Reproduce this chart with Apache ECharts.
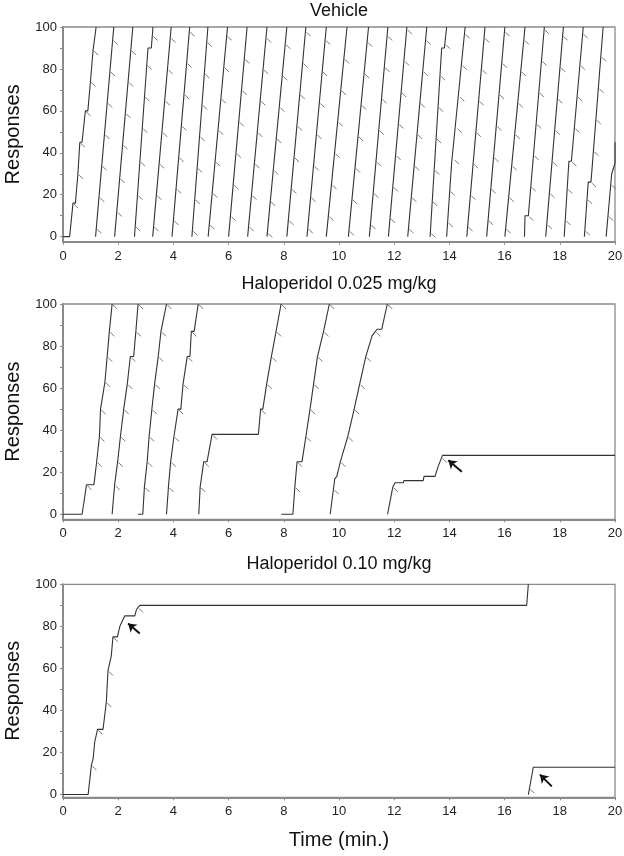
<!DOCTYPE html>
<html><head><meta charset="utf-8">
<script src="https://cdn.jsdelivr.net/npm/echarts@6/dist/echarts.min.js"></script>
<style>html,body{margin:0;padding:0;background:#fff}#c{width:624px;height:856px}</style>
</head><body><div id="c"></div>
<script>
// ---------- data ----------
const panelTitles = ['Vehicle', 'Haloperidol 0.025 mg/kg', 'Haloperidol 0.10 mg/kg'];
const xAxisTitle = 'Time (min.)';
const yAxisTitle = 'Responses';
const yLabelValues = [0, 20, 40, 60, 80, 100];
const yTickValues = [0, 10, 20, 30, 40, 50, 60, 70, 80, 90, 100];
const xRange = [0, 20];
const xStep = 2;

// cumulative records: [time (min), responses]; pen resets at 100
const vehicleRecords = [
  [[0,0],[0.24,0],[0.34,13],[0.36,16],[0.45,16],[0.54,30],[0.61,45],[0.69,45],[0.81,60],[0.9,60],[0.995,74],[1.09,89],[1.2,100]],
  [[1.18,0],[1.84,100]],
  [[1.87,0],[2.53,100]],
  [[2.59,0],[3.08,90],[3.2,90],[3.26,100]],
  [[3.25,0],[3.92,100]],
  [[3.95,0],[4.59,100]],
  [[4.67,0],[5.25,100]],
  [[5.26,0],[5.96,100]],
  [[6.00,0],[6.67,100]],
  [[6.69,0],[7.39,100]],
  [[7.39,0],[8.11,100]],
  [[8.11,0],[8.80,100]],
  [[8.84,0],[9.54,100]],
  [[9.54,0],[10.29,100]],
  [[10.34,0],[11.07,100]],
  [[11.10,0],[11.77,100]],
  [[11.79,0],[12.46,100]],
  [[12.49,0],[13.18,100]],
  [[13.30,0],[13.72,90],[13.82,90],[13.90,100]],
  [[13.90,0],[14.08,35],[14.15,35],[14.57,100]],
  [[14.63,0],[15.29,100]],
  [[15.35,0],[16.01,100]],
  [[16.01,0],[16.74,100]],
  [[16.72,0],[16.74,10],[16.86,10],[17.44,100]],
  [[17.49,0],[18.13,100]],
  [[18.16,0],[18.33,36],[18.42,36],[18.85,100]],
  [[18.89,0],[19.03,26],[19.13,26],[19.57,100]],
  [[19.68,0],[19.88,30],[20,35],[20,45]]
];
const vehicleMarks = [
  [0.36,16],[0.54,30],[0.61,45],[0.81,60],[0.995,74],[1.09,89],
  [1.21,4],[1.31,19],[1.40,34],[1.50,49],[1.60,64],[1.70,79],[1.80,94],
  [1.95,12],[2.05,28],[2.16,44],[2.26,59],[2.36,74],[2.46,89],
  [2.62,5],[2.70,20],[2.79,36],[2.87,52],[2.95,67],[3.04,82],[3.24,96],
  [3.28,5],[3.38,20],[3.48,35],[3.59,50],[3.69,65],[3.79,80],[3.89,95],
  [4.00,8],[4.10,23],[4.19,38],[4.29,53],[4.39,68],[4.48,83],[4.58,98],
  [4.69,3],[4.77,18],[4.86,33],[4.95,48],[5.04,63],[5.12,78],[5.21,93],
  [5.30,6],[5.41,21],[5.51,36],[5.62,51],[5.72,66],[5.83,81],[5.93,96],
  [6.07,10],[6.17,25],[6.27,40],[6.37,55],[6.47,70],[6.57,85],
  [6.73,5],[6.83,20],[6.94,35],[7.04,50],[7.15,65],[7.25,80],[7.36,95],
  [7.40,2],[7.51,17],[7.62,32],[7.73,47],[7.84,62],[7.94,77],[8.05,92],
  [8.17,8],[8.27,23],[8.37,38],[8.48,53],[8.58,68],[8.68,83],[8.79,98],
  [8.87,4],[8.97,19],[9.08,34],[9.18,49],[9.29,64],[9.39,79],[9.50,94],
  [9.62,10],[9.73,25],[9.84,40],[9.95,55],[10.07,70],[10.18,85],
  [10.36,3],[10.47,18],[10.58,33],[10.69,48],[10.80,63],[10.91,78],[11.02,93],
  [11.14,6],[11.24,21],[11.34,36],[11.44,51],[11.54,66],[11.64,81],[11.74,96],
  [11.85,9],[11.95,24],[12.05,39],[12.15,54],[12.25,69],[12.36,84],[12.46,99],
  [12.52,4],[12.62,19],[12.72,34],[12.83,49],[12.93,64],[13.04,79],[13.14,94],
  [13.31,2],[13.38,17],[13.45,32],[13.52,47],[13.59,62],[13.66,77],[13.84,92],
  [13.94,7],[14.01,22],[14.16,37],[14.26,52],[14.36,67],[14.45,82],[14.55,97],
  [14.66,5],[14.76,20],[14.86,35],[14.96,50],[15.06,65],[15.16,80],[15.26,95],
  [15.40,8],[15.50,23],[15.60,38],[15.70,53],[15.80,68],[15.90,83],[16.00,98],
  [16.04,4],[16.15,19],[16.26,34],[16.37,49],[16.48,64],[16.59,79],[16.70,94],
  [16.86,10],[16.95,24],[17.05,39],[17.14,54],[17.24,69],[17.34,84],[17.43,99],
  [17.53,6],[17.62,21],[17.72,36],[17.82,51],[17.91,66],[18.01,81],[18.10,96],
  [18.20,8],[18.27,23],[18.42,36],[18.53,52],[18.63,67],[18.73,82],[18.83,97],
  [18.91,3],[18.99,18],[19.13,26],[19.22,41],[19.31,56],[19.40,71],[19.49,86],
  [19.75,10],[19.85,25]
];

const halo025Records = [
  [[0,0],[0.69,0],[0.75,5],[0.85,14],[1.12,14],[1.22,25],[1.28,25],[1.32,37],[1.36,50],[1.43,50],[1.52,63],[1.6,75],[1.65,75],[1.68,87],[1.78,100]],
  [[1.78,0],[1.87,14],[1.98,25],[2.08,37],[2.2,50],[2.26,50],[2.33,62],[2.44,75],[2.56,75],[2.64,87],[2.72,100]],
  [[2.72,0],[2.89,0],[2.95,13],[3.05,25],[3.12,37],[3.22,50],[3.32,62],[3.45,75],[3.55,87],[3.62,87],[3.75,100]],
  [[3.75,0],[3.77,0],[3.82,13],[3.9,25],[4.02,37],[4.17,50],[4.27,50],[4.35,62],[4.5,75],[4.6,75],[4.65,87],[4.75,87],[4.9,100]],
  [[4.92,0],[4.97,13],[5.1,25],[5.22,25],[5.4,38],[7.08,38],[7.16,50],[7.24,50],[7.38,62],[7.55,75],[7.62,75],[7.72,87],[7.9,100]],
  [[7.91,0],[8.33,0],[8.4,13],[8.48,25],[8.66,25],[8.8,37],[8.95,50],[9.08,62],[9.22,75],[9.44,87],[9.65,100]],
  [[9.68,0],[9.8,12],[9.85,17],[9.92,18],[10.05,25],[10.32,37],[10.55,50],[10.75,62],[10.97,75],[11.2,85],[11.38,88],[11.55,88],[11.75,100]],
  [[11.76,0],[11.95,13],[12.03,15],[12.33,15],[12.35,16],[13.05,16],[13.08,18],[13.48,18],[13.6,23],[13.75,28],[20,28]]
];
const halo025Marks = [
  [0.85,14],[1.22,25],[1.32,37],[1.36,50],[1.52,63],[1.6,75],[1.68,87],[1.78,100],
  [1.87,14],[1.98,25],[2.08,37],[2.2,50],[2.33,62],[2.44,75],[2.64,87],[2.72,100],
  [2.95,13],[3.05,25],[3.12,37],[3.22,50],[3.32,62],[3.45,75],[3.55,87],[3.75,100],
  [3.82,13],[3.9,25],[4.02,37],[4.17,50],[4.35,62],[4.5,75],[4.65,87],[4.9,100],
  [4.97,13],[5.1,25],[5.4,38],[7.16,50],[7.38,62],[7.55,75],[7.72,87],[7.9,100],
  [8.4,13],[8.48,25],[8.8,37],[8.95,50],[9.08,62],[9.22,75],[9.44,87],[9.65,100],
  [9.8,12],[10.05,25],[10.32,37],[10.55,50],[10.75,62],[10.97,75],[11.32,87],[11.75,100],
  [11.95,13],[13.72,27]
];
const halo025Arrows = [[[14.45,20.2],[13.96,25.7]]];

const halo010Records = [
  [[0,0],[0.91,0],[1.03,14],[1.09,17],[1.15,25],[1.25,31],[1.45,31],[1.57,44],[1.63,59],[1.7,59],[1.75,66],[1.81,75],[1.97,75],[2.06,80],[2.24,85],[2.6,85],[2.66,88],[2.78,90],[16.8,90],[16.86,100]],
  [[16.86,0],[17.04,13],[20,13]]
];
const halo010Marks = [[1.03,14],[1.25,31],[1.57,44],[1.63,59],[1.81,75],[2.72,89],[16.9,3]];
const halo010Arrows = [[[2.78,76.6],[2.36,81.4]], [[17.71,3.9],[17.28,9.5]]];

// ---------- layout / style ----------
const FONT = '"Liberation Sans", Arial, sans-serif';
const panels = [
  { records: vehicleRecords, marks: vehicleMarks, arrows: [], top: 27, height: 214.7, ymin: -2.4, titleTop: 2 },
  { records: halo025Records, marks: halo025Marks, arrows: halo025Arrows, top: 304, height: 215.3, ymin: -2.4, titleTop: 275 },
  { records: halo010Records, marks: halo010Marks, arrows: halo010Arrows, top: 584.3, height: 213, ymin: -1.3, titleTop: 555 }
];
const AX = '#8a8a8a';

const grid = [], xAxis = [], yAxis = [], title = [], series = [];
panels.forEach((p, i) => {
  grid.push({ left: 63, top: p.top, width: 552, height: p.height, show: true, borderColor: '#8a8a8a', borderWidth: 1.3,
    containLabel: false, outerBoundsMode: 'none' });
  title.push({ text: panelTitles[i], left: 339, top: p.titleTop, textAlign: 'center', padding: 0,
    textStyle: { fontSize: 18, fontWeight: 'normal', color: '#111', fontFamily: FONT } });
  xAxis.push({
    gridIndex: i, type: 'value', min: xRange[0], max: xRange[1], interval: xStep,
    axisLine: { show: true, onZero: false, lineStyle: { color: AX, width: 2 } },
    axisTick: { show: true, length: 3, lineStyle: { color: AX } },
    axisLabel: { fontSize: 13, color: '#222', margin: 8, fontFamily: FONT },
    splitLine: { show: false },
    name: i === 2 ? xAxisTitle : '', nameLocation: 'middle', nameGap: 33,
    nameTextStyle: { fontSize: 20, color: '#111', fontFamily: FONT }
  });
  yAxis.push({
    gridIndex: i, type: 'value', min: p.ymin, max: 100,
    axisLine: { show: true, onZero: false, lineStyle: { color: AX, width: 2 } },
    axisTick: { show: true, length: 3, customValues: yTickValues, lineStyle: { color: AX } },
    axisLabel: { customValues: yLabelValues, fontSize: 13, color: '#222', margin: 6, fontFamily: FONT },
    splitLine: { show: false },
    name: yAxisTitle, nameLocation: 'middle', nameGap: 40,
    nameTextStyle: { fontSize: 20, color: '#111', fontFamily: FONT }
  });
  p.records.forEach(rec => {
    series.push({ type: 'line', xAxisIndex: i, yAxisIndex: i, data: rec, symbol: 'none', silent: true,
      lineStyle: { color: '#333', width: 1.1 }, clip: false });
  });
  series.push({ type: 'scatter', xAxisIndex: i, yAxisIndex: i, data: p.marks, silent: true,
    symbol: 'path://M0,0L10,10', symbolSize: 4, symbolOffset: [3, 3],
    itemStyle: { color: 'rgba(0,0,0,0)', borderColor: '#777', borderWidth: 1, opacity: 1 } });
  if (p.arrows.length) {
    series.push({ type: 'lines', coordinateSystem: 'cartesian2d', xAxisIndex: i, yAxisIndex: i, silent: true,
      data: p.arrows.map(a => ({ coords: a })), symbol: ['none', 'arrow'], symbolSize: 8,
      lineStyle: { color: '#111', width: 2, opacity: 1 } });
  }
});

const chart = echarts.init(document.getElementById('c'), null, { renderer: 'canvas' });
chart.setOption({ animation: false, backgroundColor: '#fff', title, grid, xAxis, yAxis, series });
</script></body></html>
